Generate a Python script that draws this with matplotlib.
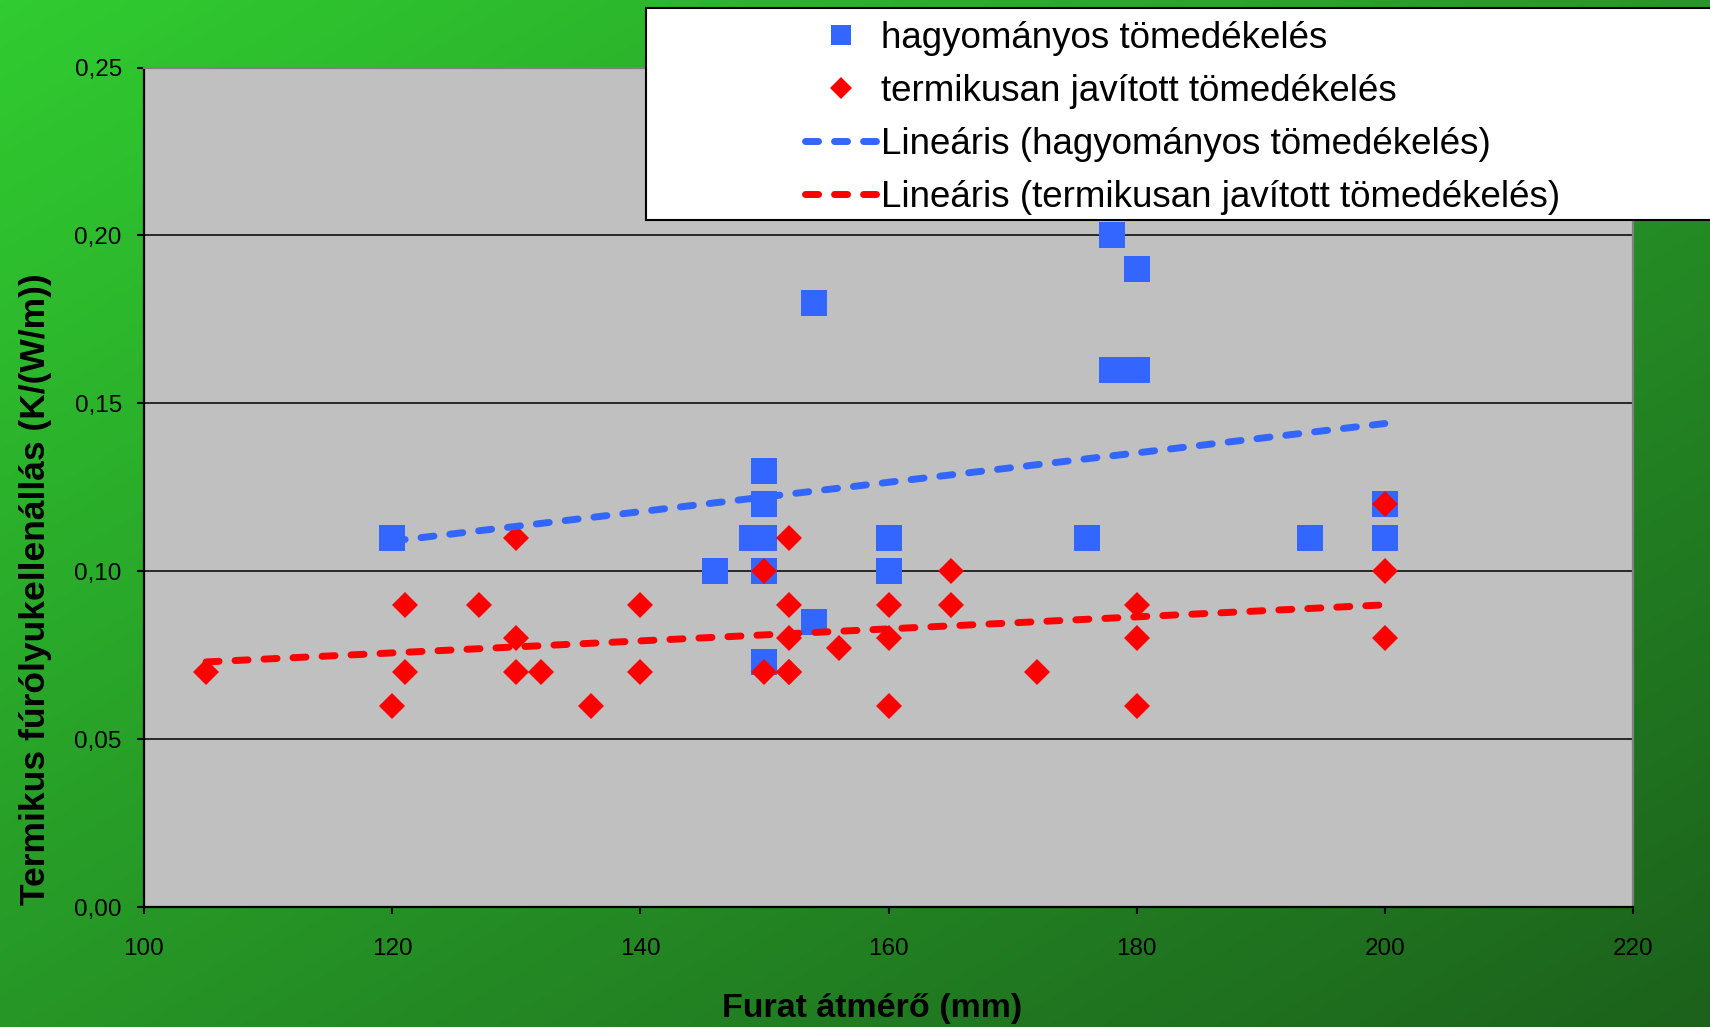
import numpy as np
import matplotlib.pyplot as plt
from matplotlib.patches import Rectangle

plt.rcParams["font.family"] = ["Liberation Sans", "DejaVu Sans"]
plt.rcParams["lines.scale_dashes"] = False

# hagyományos tömedékelés (blue squares)
trad_x = [120, 146, 149, 150, 150, 150, 150, 150, 154, 154,
          160, 160, 176, 178, 178, 180, 180, 194, 200, 200]
trad_y = [0.11, 0.10, 0.11, 0.11, 0.12, 0.13, 0.10, 0.073, 0.18, 0.085,
          0.11, 0.10, 0.11, 0.20, 0.16, 0.19, 0.16, 0.11, 0.12, 0.11]

# termikusan javított tömedékelés (red diamonds)
impr_x = [105, 120, 121, 121, 127, 130, 130, 130, 132, 136,
          140, 140, 150, 150, 152, 152, 152, 152, 152, 156,
          160, 160, 160, 165, 165, 172, 180, 180, 180, 200,
          200, 200]
impr_y = [0.07, 0.06, 0.09, 0.07, 0.09, 0.11, 0.08, 0.07, 0.07, 0.06,
          0.09, 0.07, 0.10, 0.07, 0.11, 0.09, 0.08, 0.07, 0.07, 0.077,
          0.09, 0.08, 0.06, 0.10, 0.09, 0.07, 0.09, 0.08, 0.06, 0.12,
          0.10, 0.08]

# trend line end points
trad_trend_x = [120, 200]
trad_trend_y = [0.109, 0.144]
impr_trend_x = [105, 200]
impr_trend_y = [0.073, 0.090]

x_ticks = [100, 120, 140, 160, 180, 200, 220]
y_ticks = [0.0, 0.05, 0.10, 0.15, 0.20, 0.25]
y_tick_labels = ["0,00", "0,05", "0,10", "0,15", "0,20", "0,25"]

labels = ["hagyományos tömedékelés",
          "termikusan javított tömedékelés",
          "Lineáris (hagyományos tömedékelés)",
          "Lineáris (termikusan javított tömedékelés)"]

BLUE = "#3366FF"
RED = "#FF0000"

fig = plt.figure(figsize=(17.1, 10.27), dpi=100)

# green diagonal gradient background
bg = fig.add_axes([0, 0, 1, 1], zorder=-10)
gx, gy = np.meshgrid(np.linspace(0, 1, 400), np.linspace(0, 1, 300))
t = ((gx + gy) / 2)[..., None]
c_top = np.array([0.19, 0.80, 0.19])
c_bot = np.array([0.11, 0.38, 0.11])
bg.imshow(c_top * (1 - t) + c_bot * t, aspect="auto", extent=[0, 1, 0, 1], origin="upper")
bg.axis("off")

ax = fig.add_axes([0.0842, 0.1168, 0.8708, 0.8174])
ax.set_facecolor("#C0C0C0")

l1, = ax.plot(trad_x, trad_y, ls="none", marker="s", ms=18.7, mew=0, color=BLUE, zorder=3)
l2, = ax.plot(impr_x, impr_y, ls="none", marker="D", ms=13.5, mew=0, color=RED, zorder=4)
dash = (0, (9.4, 11.5))
l3, = ax.plot(trad_trend_x, trad_trend_y, ls=dash, lw=5, color=BLUE,
              dash_capstyle="round", zorder=5)
l4, = ax.plot(impr_trend_x, impr_trend_y, ls=dash, lw=5, color=RED,
              dash_capstyle="round", zorder=5)

ax.set_xlim(100, 220)
ax.set_ylim(0, 0.25)
ax.set_xticks(x_ticks)
ax.set_xticklabels([str(v) for v in x_ticks])
ax.set_yticks(y_ticks)
ax.set_yticklabels(y_tick_labels)
ax.tick_params(axis="both", direction="out", length=5, width=1.5, labelsize=17.5, colors="black")
ax.tick_params(axis="y", pad=11)
ax.tick_params(axis="x", pad=17.5)

ax.yaxis.grid(True, color="black", lw=1.1)
ax.set_axisbelow(True)
for side in ["left", "bottom"]:
    ax.spines[side].set_color("black")
    ax.spines[side].set_linewidth(1.6)
for side in ["top", "right"]:
    ax.spines[side].set_color("#808080")
    ax.spines[side].set_linewidth(1.6)

# legend box (runs off the right edge like the original)
box = Rectangle((0.3775, 0.7858), 0.65, 0.2064, transform=fig.transFigure,
                facecolor="white", edgecolor="black", lw=1.5, zorder=5)
fig.add_artist(box)
leg = fig.legend([l1, l2, l3, l4], labels, loc="upper left",
                 bbox_to_anchor=(0.4708, 0.9795), frameon=False, fontsize=26.5,
                 handlelength=1.93, handletextpad=0.14, labelspacing=0.49,
                 borderpad=0, borderaxespad=0, markerscale=0.8)
leg.set_zorder(6)

fig.text(0.0205, 0.4265, "Termikus fúrólyukellenállás (K/(W/m))", rotation=90,
         fontsize=25.5, fontweight="bold", ha="center", va="center")
fig.text(0.51, 0.010, "Furat átmérő (mm)", fontsize=24.5, fontweight="bold",
         ha="center", va="baseline")

fig.savefig("out.png", dpi=100)
